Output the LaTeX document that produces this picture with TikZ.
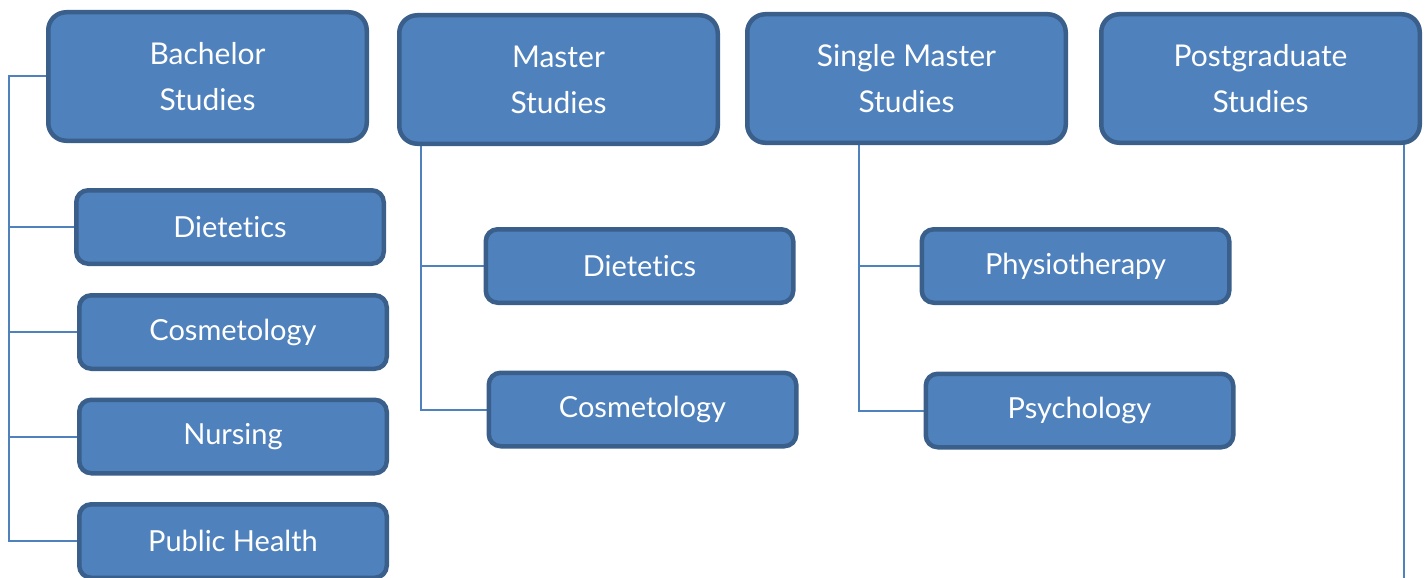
\documentclass[tikz,border=0pt]{standalone}
\usepackage{fontspec}
\setmainfont[Ligatures={NoCommon}]{Lato}
\usetikzlibrary{backgrounds}
\definecolor{boxfill}{HTML}{4F81BD}
\definecolor{boxline}{HTML}{3A5F8B}
\definecolor{conn}{HTML}{4F81BD}
\tikzset{
  bigbox/.style={draw=boxline, fill=boxfill, line width=4.5pt, rounded corners=18pt,
    minimum width=318.5pt, minimum height=128.5pt, text=white, align=center,
    font=\fontsize{30}{46}\selectfont, inner sep=0pt},
  smallbox/.style={draw=boxline, fill=boxfill, line width=4.5pt, rounded corners=12pt,
    minimum width=307.5pt, minimum height=73.5pt, text=white, align=center,
    font=\fontsize{29}{34}\selectfont, inner sep=0pt},
  connector/.style={draw=conn, line width=2pt}
}
\begin{document}
\begin{tikzpicture}[x=1pt,y=-1pt]
\useasboundingbox (0,0) rectangle (1425,578);
% top boxes
\node[bigbox] (bach) at (207.5,76.5) {Bachelor\\Studies};
\node[bigbox] (mast) at (558.5,79.5) {Master\\Studies};
\node[bigbox] (sing) at (906.5,78.5) {Single Master\\Studies};
\node[bigbox] (post) at (1260.5,78.5) {Postgraduate\\Studies};
% bachelor children
\node[smallbox] (bdiet) at (230,227) {Dietetics};
\node[smallbox] (bcos) at (233,332) {Cosmetology};
\node[smallbox] (bnur) at (233,436.5) {Nursing};
\node[smallbox] (bph) at (233,541) {Public Health};
% master children
\node[smallbox] (mdiet) at (639.5,266) {Dietetics};
\node[smallbox] (mcos) at (642.5,409.5) {Cosmetology};
% single master children
\node[smallbox] (sphy) at (1075.5,266) {Physiotherapy};
\node[smallbox] (spsy) at (1079.5,410.5) {Psychology};
% connector anchors
\coordinate (bl) at (9,76.5);
\coordinate (mt) at (421,145);
\coordinate (st) at (859,143);
\coordinate (pt) at (1404,144);
\coordinate (pb) at (1404,580);
\begin{scope}[on background layer]
\draw[connector] (bach.west) -- (bl) |- (bph.west);
\draw[connector] (bl |- bdiet.west) -- (bdiet.west);
\draw[connector] (bl |- bcos.west) -- (bcos.west);
\draw[connector] (bl |- bnur.west) -- (bnur.west);
\draw[connector] (mt) |- (mcos.west);
\draw[connector] (mt |- mdiet.west) -- (mdiet.west);
\draw[connector] (st) |- (spsy.west);
\draw[connector] (st |- sphy.west) -- (sphy.west);
\draw[connector] (pt) -- (pb);
\end{scope}
\end{tikzpicture}
\end{document}
